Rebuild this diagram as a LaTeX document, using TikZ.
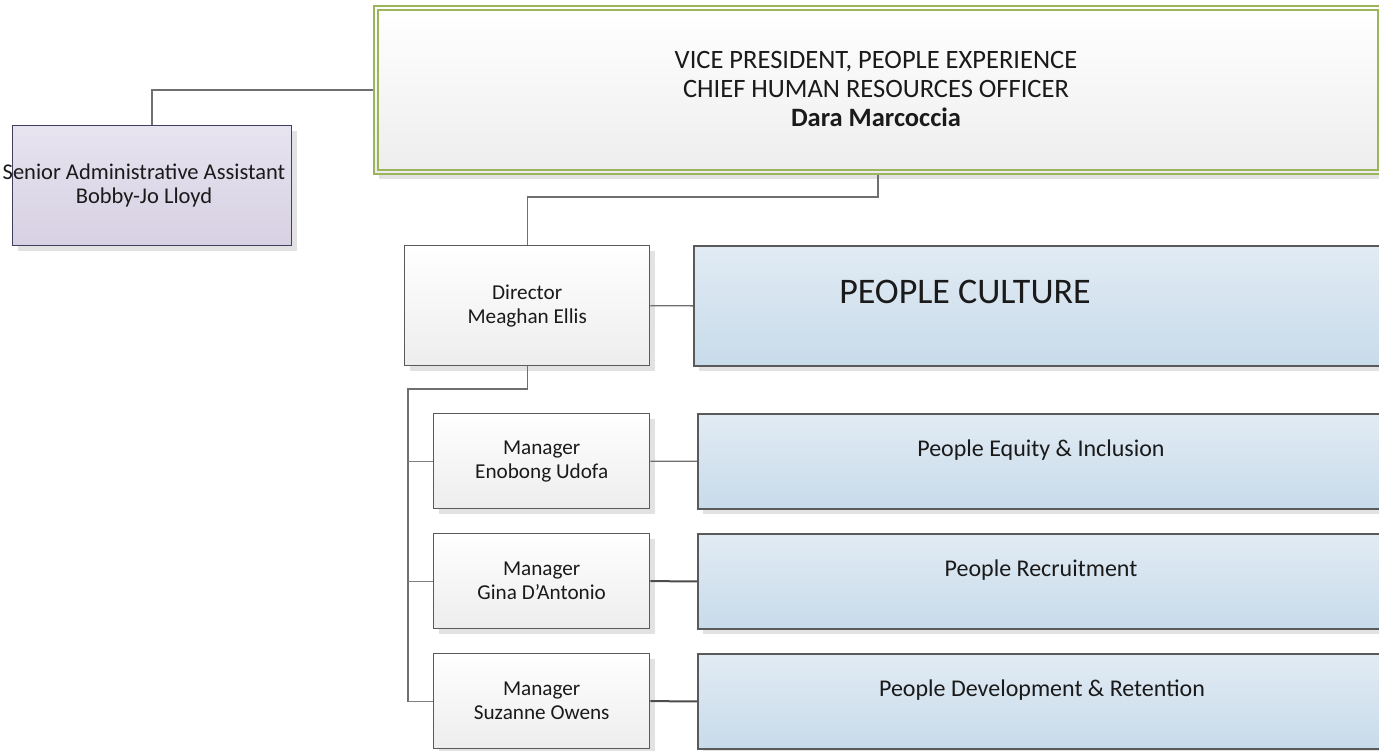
\documentclass[tikz,border=0pt]{standalone}
\usepackage{fontspec}
\setmainfont{Carlito}
\usetikzlibrary{shadows,calc}
\definecolor{grn}{HTML}{9BB55A}
\definecolor{purb}{HTML}{433D5E}
\definecolor{bordgray}{HTML}{5A5A5A}
\definecolor{conn}{HTML}{6F6F6F}
\definecolor{shad}{HTML}{E2E2E2}
\definecolor{txtcol}{HTML}{1A1A1A}
\definecolor{purtop}{HTML}{E7E3EF}
\definecolor{purbot}{HTML}{D7D1E3}
\definecolor{bluetop}{HTML}{E1EBF4}
\definecolor{bluebot}{HTML}{C8DBEA}
\tikzset{
  shadowed/.style={drop shadow={shadow xshift=5pt, shadow yshift=-5pt, fill=shad, opacity=1}},
  vpbox/.style={anchor=north west, draw=grn, line width=2pt, top color=white, bottom color=black!7, shadowed, inner sep=0pt},
  asbox/.style={anchor=north west, draw=purb, line width=1.3pt, top color=purtop, bottom color=purbot, shadowed, inner sep=0pt},
  graybox/.style={anchor=north west, draw=bordgray, line width=1.4pt, top color=white, bottom color=black!7, shadowed, inner sep=0pt, align=center, text=txtcol, font=\fontsize{21.2}{24}\selectfont},
  bluebox/.style={anchor=north west, draw=bordgray, line width=1.6pt, top color=bluetop, bottom color=bluebot, shadowed, inner sep=0pt},
  txt/.style={align=center, inner sep=0pt, text=txtcol},
  connector/.style={draw=conn, line width=1.4pt},
  branch/.style={draw=black!50, line width=1.1pt},
  darkconn/.style={draw=black!70, line width=2pt},
}
\begin{document}
\begin{tikzpicture}[x=1pt,y=-1pt]
\useasboundingbox (0,0) rectangle (1379,750);
\fill[white] (0,0) rectangle (1379,750);

% top box
\node[vpbox, minimum width=1008pt, minimum height=168pt] (vp) at (373,5) {};
\draw[grn, line width=1.3pt] ($(vp.north west)+(5,5)$) rectangle ($(vp.south east)+(-5,-5)$);
\node[txt, font=\fontsize{26.5}{29}\selectfont] (vpt) at (876,89)
  {VICE PRESIDENT, PEOPLE EXPERIENCE\\CHIEF HUMAN RESOURCES OFFICER\\\textbf{Dara Marcoccia}};

% assistant
\node[asbox, minimum width=279pt, minimum height=120pt] (sa) at (12,125) {};
\node[txt, font=\fontsize{22.5}{24}\selectfont] (sat) at (144,185) {Senior Administrative Assistant\\Bobby-Jo Lloyd};

% director
\node[graybox, minimum width=245pt, minimum height=120pt] (dir) at (404,245) {Director\\Meaghan Ellis};
\node[bluebox, minimum width=700pt, minimum height=120pt] (pc) at (693,245) {};
\node[txt, font=\fontsize{36}{42}\selectfont] (pct) at (965,292) {PEOPLE CULTURE};

% managers
\node[graybox, minimum width=216pt, minimum height=95pt] (m1) at (433,413) {Manager\\Enobong Udofa};
\node[graybox, minimum width=216pt, minimum height=95pt] (m2) at (433,533) {Manager\\Gina D’Antonio};
\node[graybox, minimum width=216pt, minimum height=95pt] (m3) at (433,653) {Manager\\Suzanne Owens};

\node[bluebox, minimum width=690pt, minimum height=95pt] (b1) at (697,413) {};
\node[bluebox, minimum width=690pt, minimum height=95pt] (b2) at (697,533) {};
\node[bluebox, minimum width=690pt, minimum height=95pt] (b3) at (697,653) {};
\node[txt, font=\fontsize{24}{29}\selectfont] (b1t) at (1041,450) {People Equity \& Inclusion};
\node[txt, font=\fontsize{24}{29}\selectfont] (b2t) at (1041,570) {People Recruitment};
\node[txt, font=\fontsize{24}{29}\selectfont] (b3t) at (1042,690) {People Development \& Retention};

% connectors
\draw[connector] (vp.west) -| (sa.north);
\draw[connector] (vp.south) |- ($(dir.north)+(0,-48)$) -- (dir.north);
\draw[connector] (dir.east) -- (pc.west);
\coordinate (trunk) at (408,389);
\draw[connector] (dir.south) |- (trunk) |- (m3.west);
\draw[branch] (trunk|-m1.west) -- (m1.west);
\draw[branch] (trunk|-m2.west) -- (m2.west);
\draw[branch] (trunk|-m3.west) -- (m3.west);
\draw[connector, line width=1.2pt] (m1.east) -- (b1.west);
\draw[darkconn] (m2.east) -- (b2.west);
\draw[darkconn] (m3.east) -- (b3.west);
\end{tikzpicture}
\end{document}
